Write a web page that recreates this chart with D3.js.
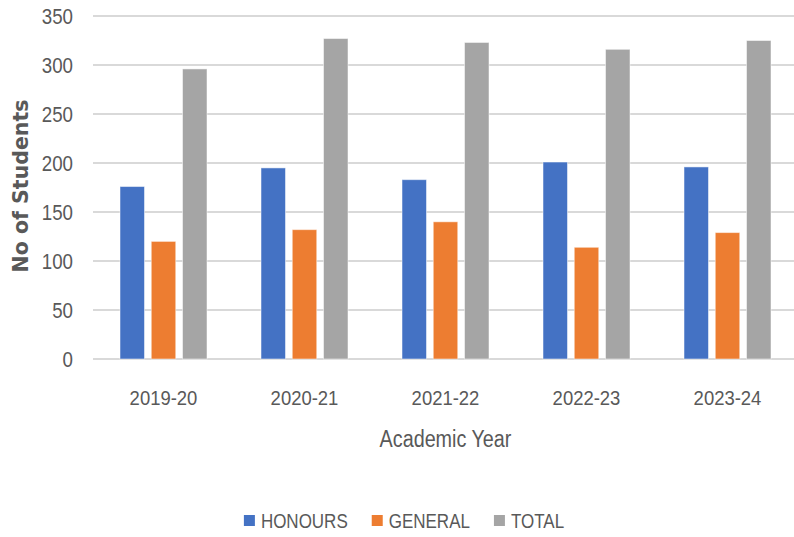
<!DOCTYPE html>
<html>
<head>
<style>
    body { margin: 0; background: #fff; }
    svg { display: block; }
</style>
</head>
<body>
    <div class="graph"></div>

    <script src="https://d3js.org/d3.v7.min.js"></script>
    <script>
        var years = ['2019-20', '2020-21', '2021-22', '2022-23', '2023-24']
        var honours = [176, 195, 183, 201, 196]
        var general = [120, 132, 140, 114, 129]
        var total = [296, 327, 323, 316, 325]
        var seriesNames = ['HONOURS', 'GENERAL', 'TOTAL']
        var yTicks = [0, 50, 100, 150, 200, 250, 300, 350]

        var colors = ['#4472C4', '#ED7D31', '#A5A5A5']
        var font = '"Liberation Sans", Arial, sans-serif'

        var width = 794,
            height = 537

        var x = d3.scaleBand()
            .domain(years)
            .range([93, 798])

        var x1 = d3.scaleBand()
            .domain(seriesNames)
            .range([x.bandwidth() / 2 - 43.5, x.bandwidth() / 2 + 43.5])
            .paddingInner(0.216)

        var y = d3.scaleLinear()
            .domain([0, 350])
            .range([359, 16])

        var svg = d3.select('.graph').append('svg')
            .attr('width', width)
            .attr('height', height)

        // condensed look: squeeze text horizontally
        function squeeze(sx) {
            return function (sel, px, py) {
                sel.attr('transform', function (d, i) {
                    return 'translate(' + px(d, i) + ',' + py(d, i) + ') scale(' + sx + ',1)'
                })
            }
        }

        // gridlines
        svg.append('g')
            .selectAll('line')
            .data(yTicks)
            .join('line')
            .attr('x1', 93)
            .attr('x2', 798)
            .attr('y1', function (d) { return y(d) })
            .attr('y2', function (d) { return y(d) })
            .style('stroke', '#d9d9d9')
            .style('stroke-width', 2)

        // y tick labels
        svg.append('g')
            .selectAll('text')
            .data(yTicks)
            .join('text')
            .call(squeeze(0.85), function () { return 73 }, function (d) { return y(d) })
            .attr('dy', '0.36em')
            .attr('text-anchor', 'end')
            .style('font-family', font)
            .style('font-size', '22px')
            .style('fill', '#595959')
            .text(function (d) { return d })

        // bars
        var rows = years.map(function (yr, i) {
            return { year: yr, values: [honours[i], general[i], total[i]] }
        })

        var groups = svg.append('g')
            .selectAll('g')
            .data(rows)
            .join('g')
            .attr('transform', function (d) { return 'translate(' + x(d.year) + ',0)' })

        groups.selectAll('rect')
            .data(function (d) {
                return d.values.map(function (v, j) { return { key: seriesNames[j], value: v, j: j } })
            })
            .join('rect')
            .attr('x', function (d) { return x1(d.key) })
            .attr('width', x1.bandwidth())
            .attr('y', function (d) { return y(d.value) })
            .attr('height', function (d) { return y(0) - y(d.value) })
            .style('fill', function (d) { return colors[d.j] })
            .style('stroke', 'rgba(255,255,255,0.5)')
            .style('stroke-width', 1)

        // x tick labels
        svg.append('g')
            .selectAll('text')
            .data(years)
            .join('text')
            .call(squeeze(0.88), function (d) { return x(d) + x.bandwidth() / 2 }, function () { return 405 })
            .attr('text-anchor', 'middle')
            .style('font-family', font)
            .style('font-size', '21px')
            .style('fill', '#595959')
            .text(function (d) { return d })

        // axis titles
        svg.append('text')
            .call(squeeze(0.86), function () { return (x.range()[0] + x.range()[1]) / 2 }, function () { return 447 })
            .attr('text-anchor', 'middle')
            .style('font-family', font)
            .style('font-size', '23px')
            .style('fill', '#595959')
            .text('Academic Year')

        svg.append('text')
            .attr('transform', 'translate(28,186) rotate(-90)')
            .attr('text-anchor', 'middle')
            .style('font-family', '"DejaVu Sans", sans-serif')
            .style('font-weight', 'bold')
            .style('font-size', '20.5px')
            .style('fill', '#595959')
            .text('No of Students')

        // legend
        var lsx = 0.85
        var legend = svg.append('g')
        var items = legend.selectAll('g')
            .data(seriesNames)
            .join('g')

        items.append('rect')
            .attr('y', 515)
            .attr('width', 11)
            .attr('height', 11)
            .style('fill', function (d, i) { return colors[i] })

        items.append('text')
            .attr('transform', 'translate(17,528) scale(' + lsx + ',1)')
            .style('font-family', font)
            .style('font-size', '20px')
            .style('fill', '#595959')
            .text(function (d) { return d })

        var pos = 0
        var widths = []
        items.each(function () {
            var w = 17 + lsx * d3.select(this).select('text').node().getComputedTextLength()
            widths.push(w)
        })
        var gap = 24
        var full = d3.sum(widths) + gap * (widths.length - 1)
        var start = 404 - full / 2
        items.attr('transform', function (d, i) {
            var t = 'translate(' + (start + pos) + ',0)'
            pos += widths[i] + gap
            return t
        })
    </script>
</body>
</html>
